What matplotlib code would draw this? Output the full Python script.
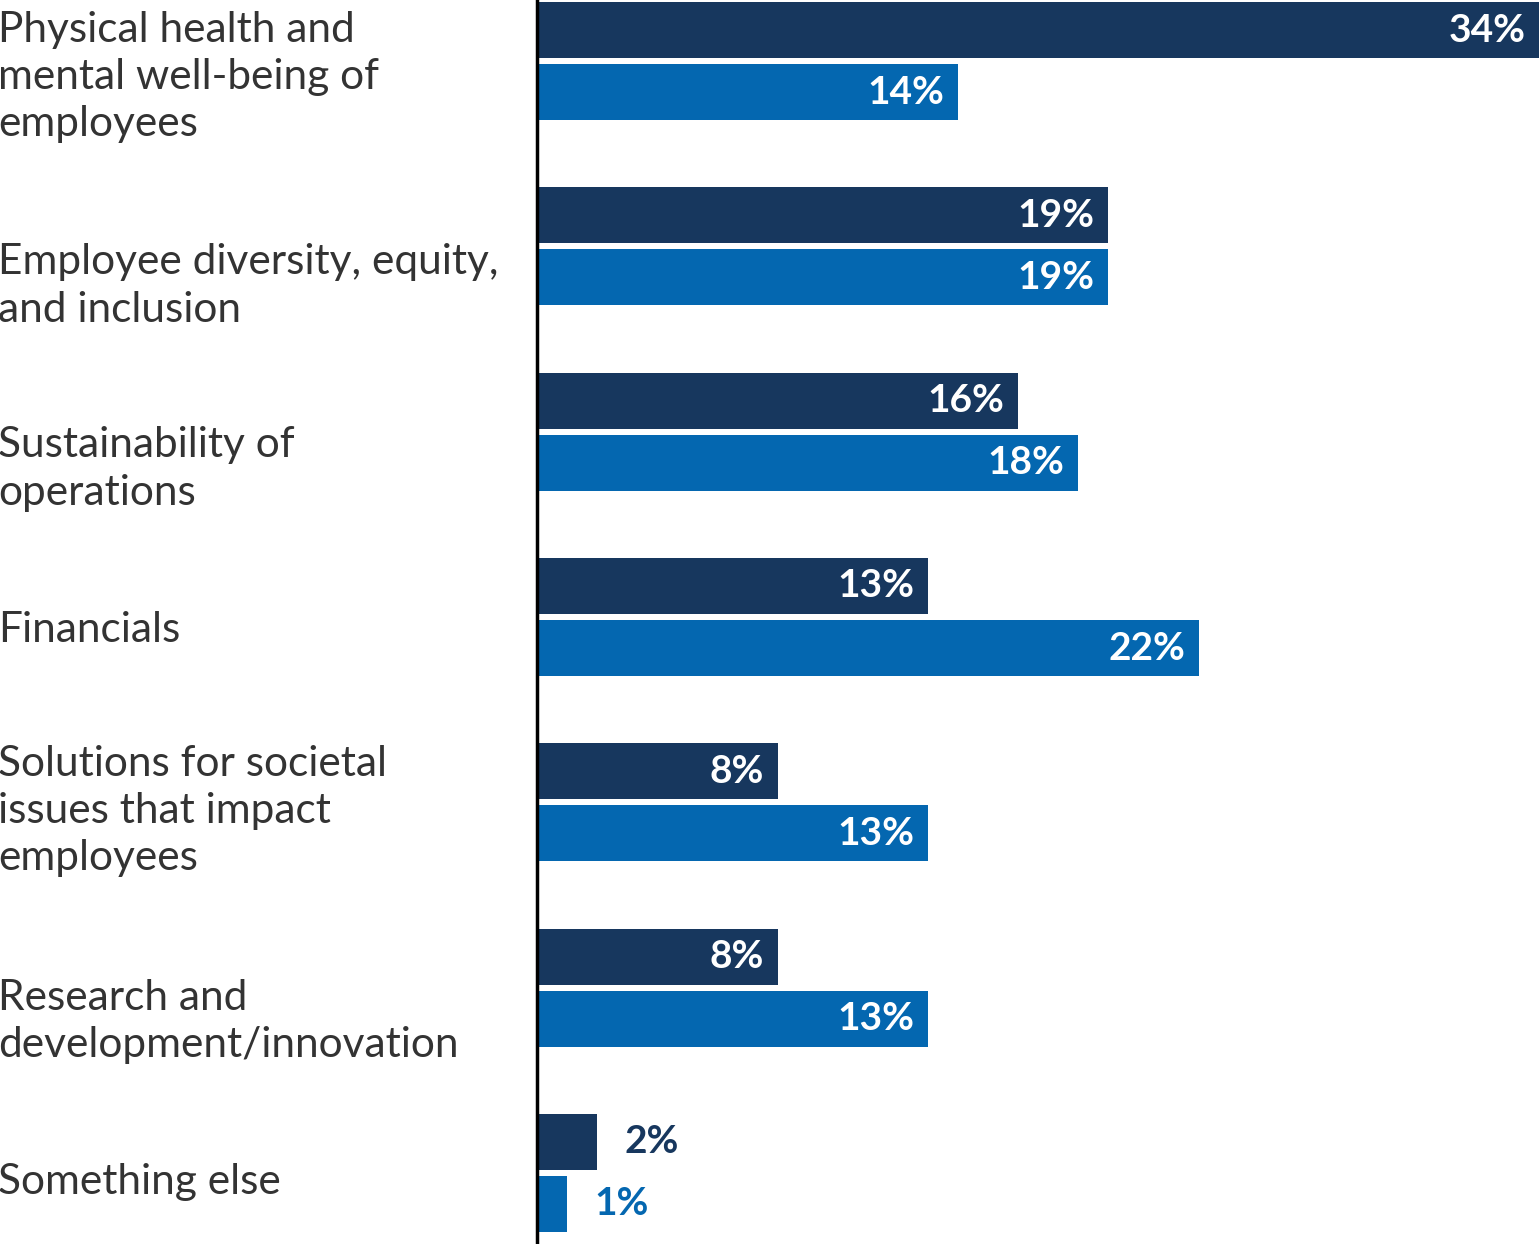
import matplotlib.pyplot as plt
from matplotlib.transforms import blended_transform_factory

categories = [
    'Physical health and\nmental well-being of\nemployees',
    'Employee diversity, equity,\nand inclusion',
    'Sustainability of\noperations',
    'Financials',
    'Solutions for societal\nissues that impact\nemployees',
    'Research and\ndevelopment/innovation',
    'Something else',
]
series_a = [34, 19, 16, 13, 8, 8, 2]
series_b = [14, 19, 18, 22, 13, 13, 1]

dark = '#17375e'
blue = '#0467b0'

plt.rcParams['font.family'] = ['Lato', 'DejaVu Sans']

fig = plt.figure(figsize=(15.39, 12.44), dpi=100)
ax = fig.add_axes([537 / 1539, 0, 1002 / 1539, 1])

xmax = 1002 / 30.07
h = 56 / 185.3
off = 31 / 185.3
ys = list(range(len(categories)))

ax.barh([y - off for y in ys], series_a, height=h, color=dark)
ax.barh([y + off for y in ys], series_b, height=h, color=blue)

ax.set_xlim(0, xmax)
ax.set_ylim(6 + 71 / 185.3, -61 / 185.3)
for s in ['top', 'right', 'bottom']:
    ax.spines[s].set_visible(False)
ax.spines['left'].set_linewidth(2.5)
ax.spines['left'].set_color('black')
ax.set_xticks([])
ax.set_yticks([])


def put_label(val, y, color):
    if val < 5:
        ax.text(val + 0.9, y, f'{val}%', ha='left', va='center', color=color,
                fontsize=28, fontweight='bold')
    else:
        x = min(val, xmax) - 0.45
        ax.text(x, y, f'{val}%', ha='right', va='center', color='white',
                fontsize=28, fontweight='bold')


for y, a, b in zip(ys, series_a, series_b):
    put_label(a, y - off, dark)
    put_label(b, y + off, blue)

# category labels sit a bit below the group centre
nudge = [0.086, 0.214, 0.202, 0.071, 0.047, 0.181, 0.049]
tr = blended_transform_factory(ax.transAxes, ax.transData)
for y, lab, n in zip(ys, categories, nudge):
    ax.text(-539 / 1002, y + n, lab, transform=tr, ha='left', va='center',
            fontsize=30.5, color='#333333', linespacing=1.3)

fig.savefig('out.png', dpi=100)
